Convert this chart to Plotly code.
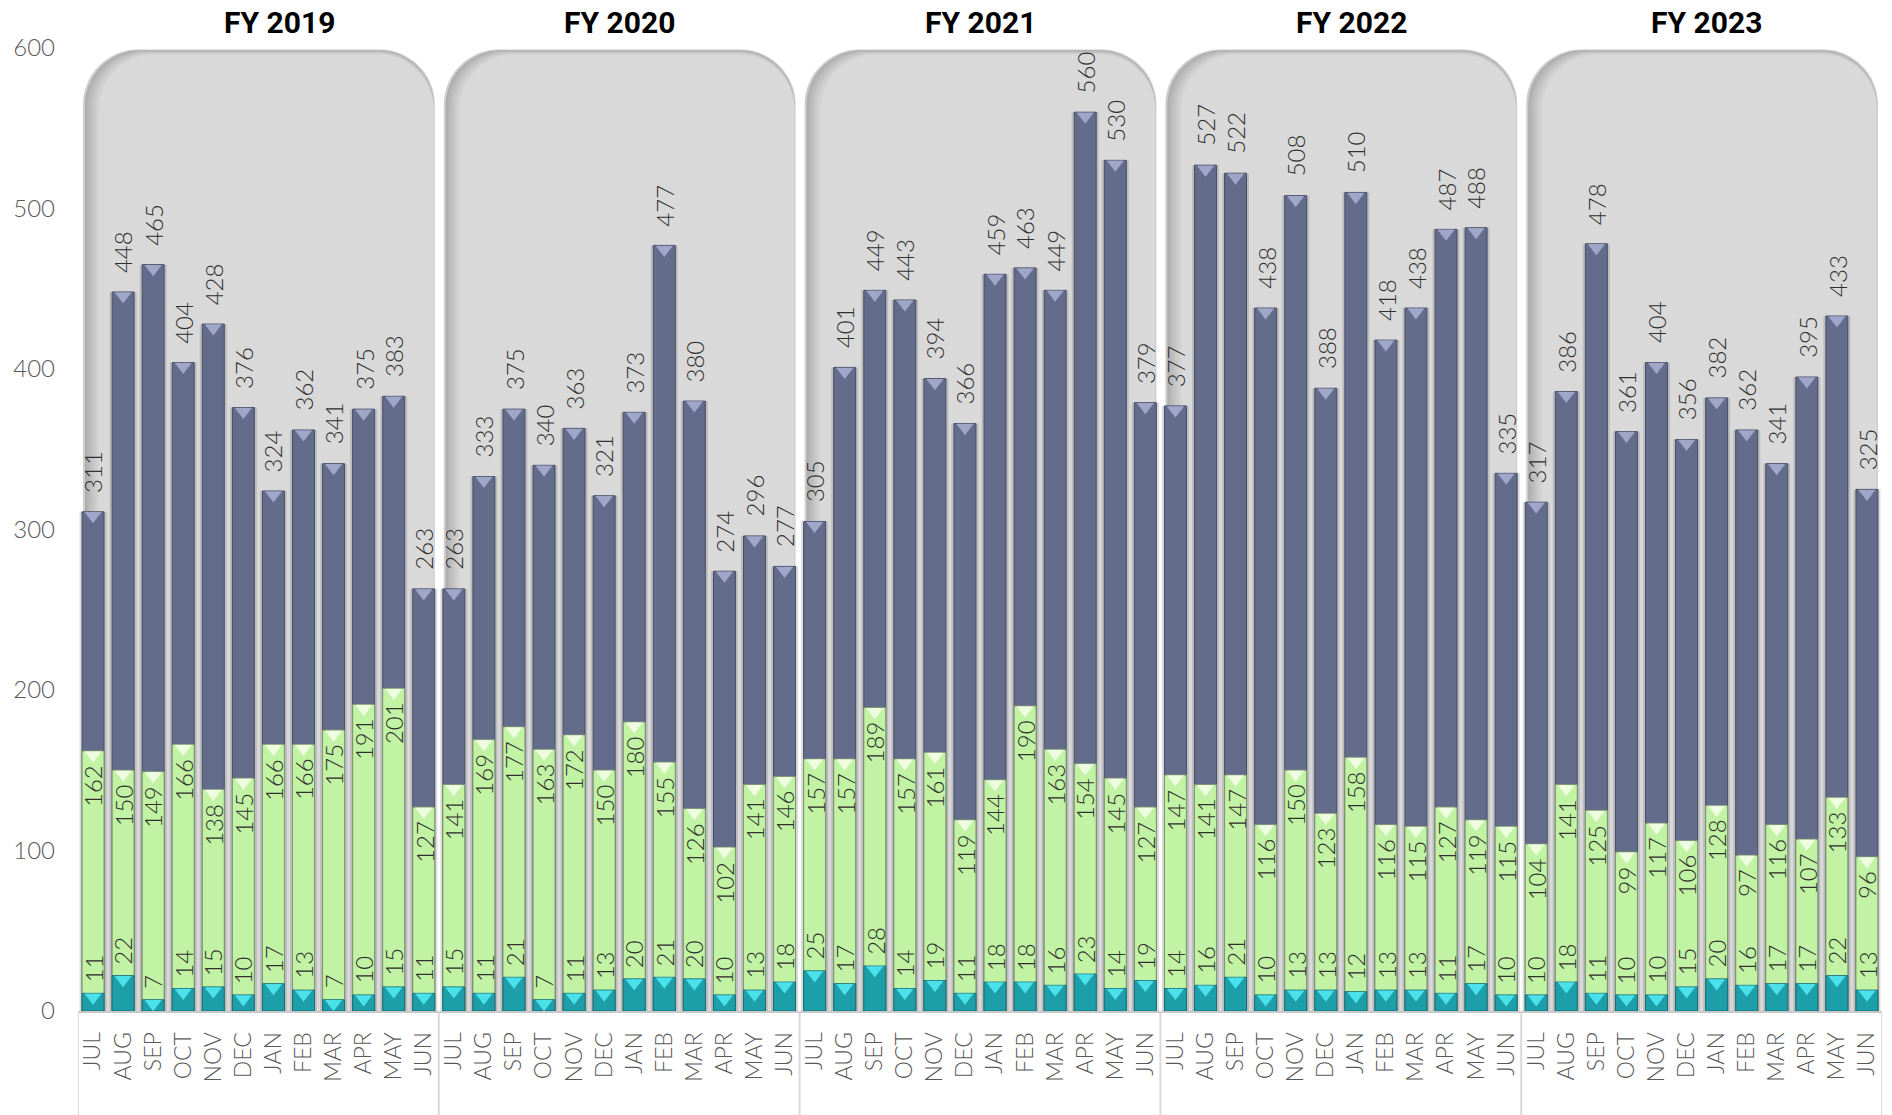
import plotly.graph_objects as go

# fiscal years and month labels
fiscal_years = ["FY 2019", "FY 2020", "FY 2021", "FY 2022", "FY 2023"]
months = ["JUL", "AUG", "SEP", "OCT", "NOV", "DEC",
          "JAN", "FEB", "MAR", "APR", "MAY", "JUN"]

# monthly totals (top, slate bars)
totals = [311, 448, 465, 404, 428, 376, 324, 362, 341, 375, 383, 263,
          263, 333, 375, 340, 363, 321, 373, 477, 380, 274, 296, 277,
          305, 401, 449, 443, 394, 366, 459, 463, 449, 560, 530, 379,
          377, 527, 522, 438, 508, 388, 510, 418, 438, 487, 488, 335,
          317, 386, 478, 361, 404, 356, 382, 362, 341, 395, 433, 325]

# middle series (green bars)
middle = [162, 150, 149, 166, 138, 145, 166, 166, 175, 191, 201, 127,
          141, 169, 177, 163, 172, 150, 180, 155, 126, 102, 141, 146,
          157, 157, 189, 157, 161, 119, 144, 190, 163, 154, 145, 127,
          147, 141, 147, 116, 150, 123, 158, 116, 115, 127, 119, 115,
          104, 141, 125, 99, 117, 106, 128, 97, 116, 107, 133, 96]

# small series (teal bars)
low = [11, 22, 7, 14, 15, 10, 17, 13, 7, 10, 15, 11,
       15, 11, 21, 7, 11, 13, 20, 21, 20, 10, 13, 18,
       25, 17, 28, 14, 19, 11, 18, 18, 16, 23, 14, 19,
       14, 16, 21, 10, 13, 13, 12, 13, 13, 11, 17, 10,
       10, 18, 11, 10, 10, 15, 20, 16, 17, 17, 22, 13]

n = len(totals)
x = list(range(n))
ticktext = months * len(fiscal_years)

W, H = 1892, 1115
M = dict(l=78, r=10, t=48, b=104)
y_max = 600
px_per_x = (W - M["l"] - M["r"]) / n
px_per_y = (H - M["t"] - M["b"]) / y_max

LABEL_FONT = "Lato, 'Open Sans', sans-serif"
BAR_W = 0.73
title_nudge = [21, 0, 0, 11, 5]  # px, titles are not exactly centred in the original

fig = go.Figure()


def panel_path(x0, x1, y0, y1, rx, ry):
    k = 0.45
    return (f"M {x0},{y0} L {x0},{y1 - ry} "
            f"C {x0},{y1 - ry * k} {x0 + rx * k},{y1} {x0 + rx},{y1} "
            f"L {x1 - rx},{y1} "
            f"C {x1 - rx * k},{y1} {x1},{y1 - ry * k} {x1},{y1 - ry} "
            f"L {x1},{y0} Z")


# rounded grey panels with a soft inner shadow on the left/top
shapes = []
layers = 9
rx = 55 / px_per_x
ry = 55 / px_per_y
for g in range(len(fiscal_years)):
    gx0 = 12 * g - 0.5 + 5 / px_per_x
    gx1 = 12 * g + 11.5 - 4 / px_per_x
    for k in range(layers):
        t = (k / (layers - 1)) ** 0.8
        c = int(165 + (217 - 165) * t)
        shapes.append(dict(
            type="path", xref="x", yref="y", layer="below",
            path=panel_path(gx0 + k * 2 / px_per_x, gx1 - (1.2 / px_per_x if k else 0), 0,
                            599 - k * 0.6 / px_per_y, rx, ry),
            fillcolor=f"rgb({c},{c},{c})" if k else "rgb(205,205,205)",
            line=dict(width=0),
        ))

# separators below the category axis
for g in range(len(fiscal_years) + 1):
    shapes.append(dict(type="line", xref="x", yref="paper",
                       x0=12 * g - 0.5, x1=12 * g - 0.5, y0=0, y1=-0.2,
                       line=dict(color="#d9d9d9", width=2)))

# bar drop shadow
fig.add_trace(go.Bar(x=x, y=totals, width=0.9,
                     marker=dict(color="rgba(90,90,90,0.22)", line=dict(width=0)),
                     hoverinfo="skip", showlegend=False))

series = [
    (totals, "#646c8b", "#474d66", "#a9b0d4"),
    (middle, "#c2f3a4", "#7f9a70", "#f6fdea"),
    (low, "#1d9faa", "#176d75", "#52ecf7"),
]
for vals, fill, edge, cap in series:
    fig.add_trace(go.Bar(x=x, y=vals, width=BAR_W,
                         marker=dict(color=fill, line=dict(color=edge, width=1)),
                         showlegend=False))
    # bevel highlight on top of each bar
    fig.add_trace(go.Scatter(x=x, y=[v - 4 / px_per_y for v in vals],
                             mode="markers",
                             marker=dict(symbol="triangle-down", size=15, color=cap,
                                         opacity=0.85, line=dict(width=0)),
                             hoverinfo="skip", showlegend=False))

label_font = dict(family=LABEL_FONT, size=24, color="#303030", weight=300)
annotations = []
for i in x:
    annotations.append(dict(x=i, y=totals[i], text=str(totals[i]), textangle=-90,
                            showarrow=False, yanchor="bottom", yshift=17, font=label_font))
    annotations.append(dict(x=i, y=middle[i], text=str(middle[i]), textangle=-90,
                            showarrow=False, yanchor="top", yshift=-12, font=label_font))
    annotations.append(dict(x=i, y=low[i], text=str(low[i]), textangle=-90,
                            showarrow=False, yanchor="bottom", yshift=9, font=label_font))

for g, fy in enumerate(fiscal_years):
    annotations.append(dict(x=12 * g + 5.5, y=1, xref="x", yref="paper", text=f"<b>{fy}</b>",
                            showarrow=False, yanchor="middle", yshift=26, xshift=title_nudge[g],
                            font=dict(family="Roboto, sans-serif", size=30, color="#000000")))

fig.update_layout(
    width=W, height=H,
    margin=M,
    barmode="overlay",
    paper_bgcolor="white",
    plot_bgcolor="white",
    shapes=shapes,
    annotations=annotations,
    xaxis=dict(range=[-0.5, n - 0.5], tickmode="array", tickvals=x, ticktext=ticktext,
               tickangle=-90, showgrid=False, zeroline=False, showline=True,
               linecolor="#c8c8c8", linewidth=2, ticks="", ticklabelstandoff=10,
               tickfont=dict(family=LABEL_FONT, size=23, color="#595959", weight=300)),
    yaxis=dict(range=[0, y_max], tickvals=list(range(0, 601, 100)), showgrid=False,
               zeroline=False, showline=False, ticks="", ticklabelstandoff=22,
               tickfont=dict(family=LABEL_FONT, size=24, color="#595959", weight=300)),
)

# drop the default page margin so the figure sits flush at the top-left
fig.write_html("out.html", config={"displayModeBar": False},
               post_script="document.body.style.margin='0';")
